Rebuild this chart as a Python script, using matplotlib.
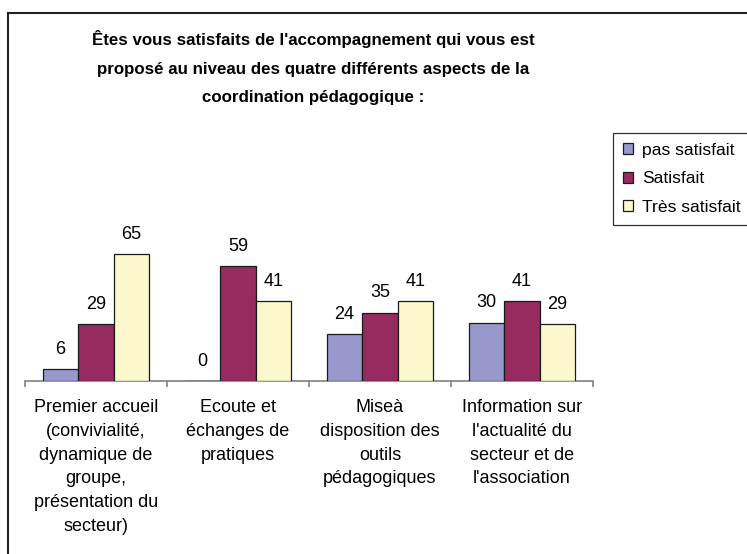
import numpy as np
import matplotlib
matplotlib.use('Agg')
import matplotlib.pyplot as plt
from matplotlib.lines import Line2D

plt.rcParams['font.family'] = ['Liberation Sans', 'DejaVu Sans']

# Données du graphique
categories = ["Premier accueil\n(convivialité,\ndynamique de\ngroupe,\nprésentation du\nsecteur)",
              "Ecoute et\néchanges de\npratiques",
              "Miseà\ndisposition des\noutils\npédagogiques",
              "Information sur\nl'actualité du\nsecteur et de\nl'association"]
series_names = ['pas satisfait', 'Satisfait', 'Très satisfait']
pas_satisfait = [6, 0, 24, 30]
satisfait = [29, 59, 35, 41]
tres_satisfait = [65, 41, 41, 29]
colors = ['#9898CC', '#962B60', '#FAF8CC']
title_lines = ["Êtes vous satisfaits de l'accompagnement qui vous est",
               "proposé au niveau des quatre différents aspects de la",
               "coordination pédagogique :"]

W, H = 747, 554
fig = plt.figure(figsize=(W / 100, H / 100), dpi=100)
# axe : x de 25 à 593 px, base à y=381 px
ax = fig.add_axes([25 / W, 1 - 381 / H, 568 / W, 231 / H])

x = np.arange(len(categories))
bw = 0.25
for i, (vals, name) in enumerate(zip([pas_satisfait, satisfait, tres_satisfait], series_names)):
    bars = ax.bar(x + (i - 1) * bw, vals, bw, color=colors[i], edgecolor='#1a1a1a',
                  linewidth=0.9, label=name, zorder=3)
    for b, v in zip(bars, vals):
        ax.annotate(str(v), (b.get_x() + b.get_width() / 2, v), xytext=(0, 11),
                    textcoords='offset points', ha='center', va='baseline', fontsize=13)

ax.set_xlim(-0.5, len(categories) - 0.5)
ax.set_ylim(0, 118.5)
for s in ['left', 'right', 'top']:
    ax.spines[s].set_visible(False)
ax.spines['bottom'].set_color('#808080')
ax.spines['bottom'].set_linewidth(1.2)
ax.set_yticks([])
ax.set_xticks(x)
ax.set_xticklabels(categories, fontsize=13, linespacing=1.53)
ax.tick_params(axis='x', which='major', length=0, pad=12.8)
ax.set_xticks(np.arange(-0.5, len(categories)), minor=True)
ax.tick_params(axis='x', which='minor', length=4, color='#808080', width=1.2)
ax.patch.set_visible(False)

# titre
for k, line in enumerate(title_lines):
    fig.text(313 / W, 1 - (45 + 28.7 * k) / H, line, ha='center', va='baseline',
             fontsize=12.2, fontweight='bold')

leg = ax.legend(loc='upper left', bbox_to_anchor=(613 / W, 1 - 133 / H),
                bbox_transform=fig.transFigure, fontsize=12.6, frameon=True,
                fancybox=False, edgecolor='black', handlelength=0.6,
                handleheight=0.6, handletextpad=0.5, labelspacing=0.78,
                borderpad=0.55, borderaxespad=0)
leg.get_frame().set_linewidth(0.9)

# cadre du graphique (haut et gauche)
fig.add_artist(Line2D([8 / W, 8 / W], [0, 1 - 13 / H], color='#222222', lw=1.5,
                      transform=fig.transFigure))
fig.add_artist(Line2D([8 / W, 1], [1 - 13 / H, 1 - 13 / H], color='#222222', lw=1.5,
                      transform=fig.transFigure))

fig.savefig('out.png', dpi=100)
